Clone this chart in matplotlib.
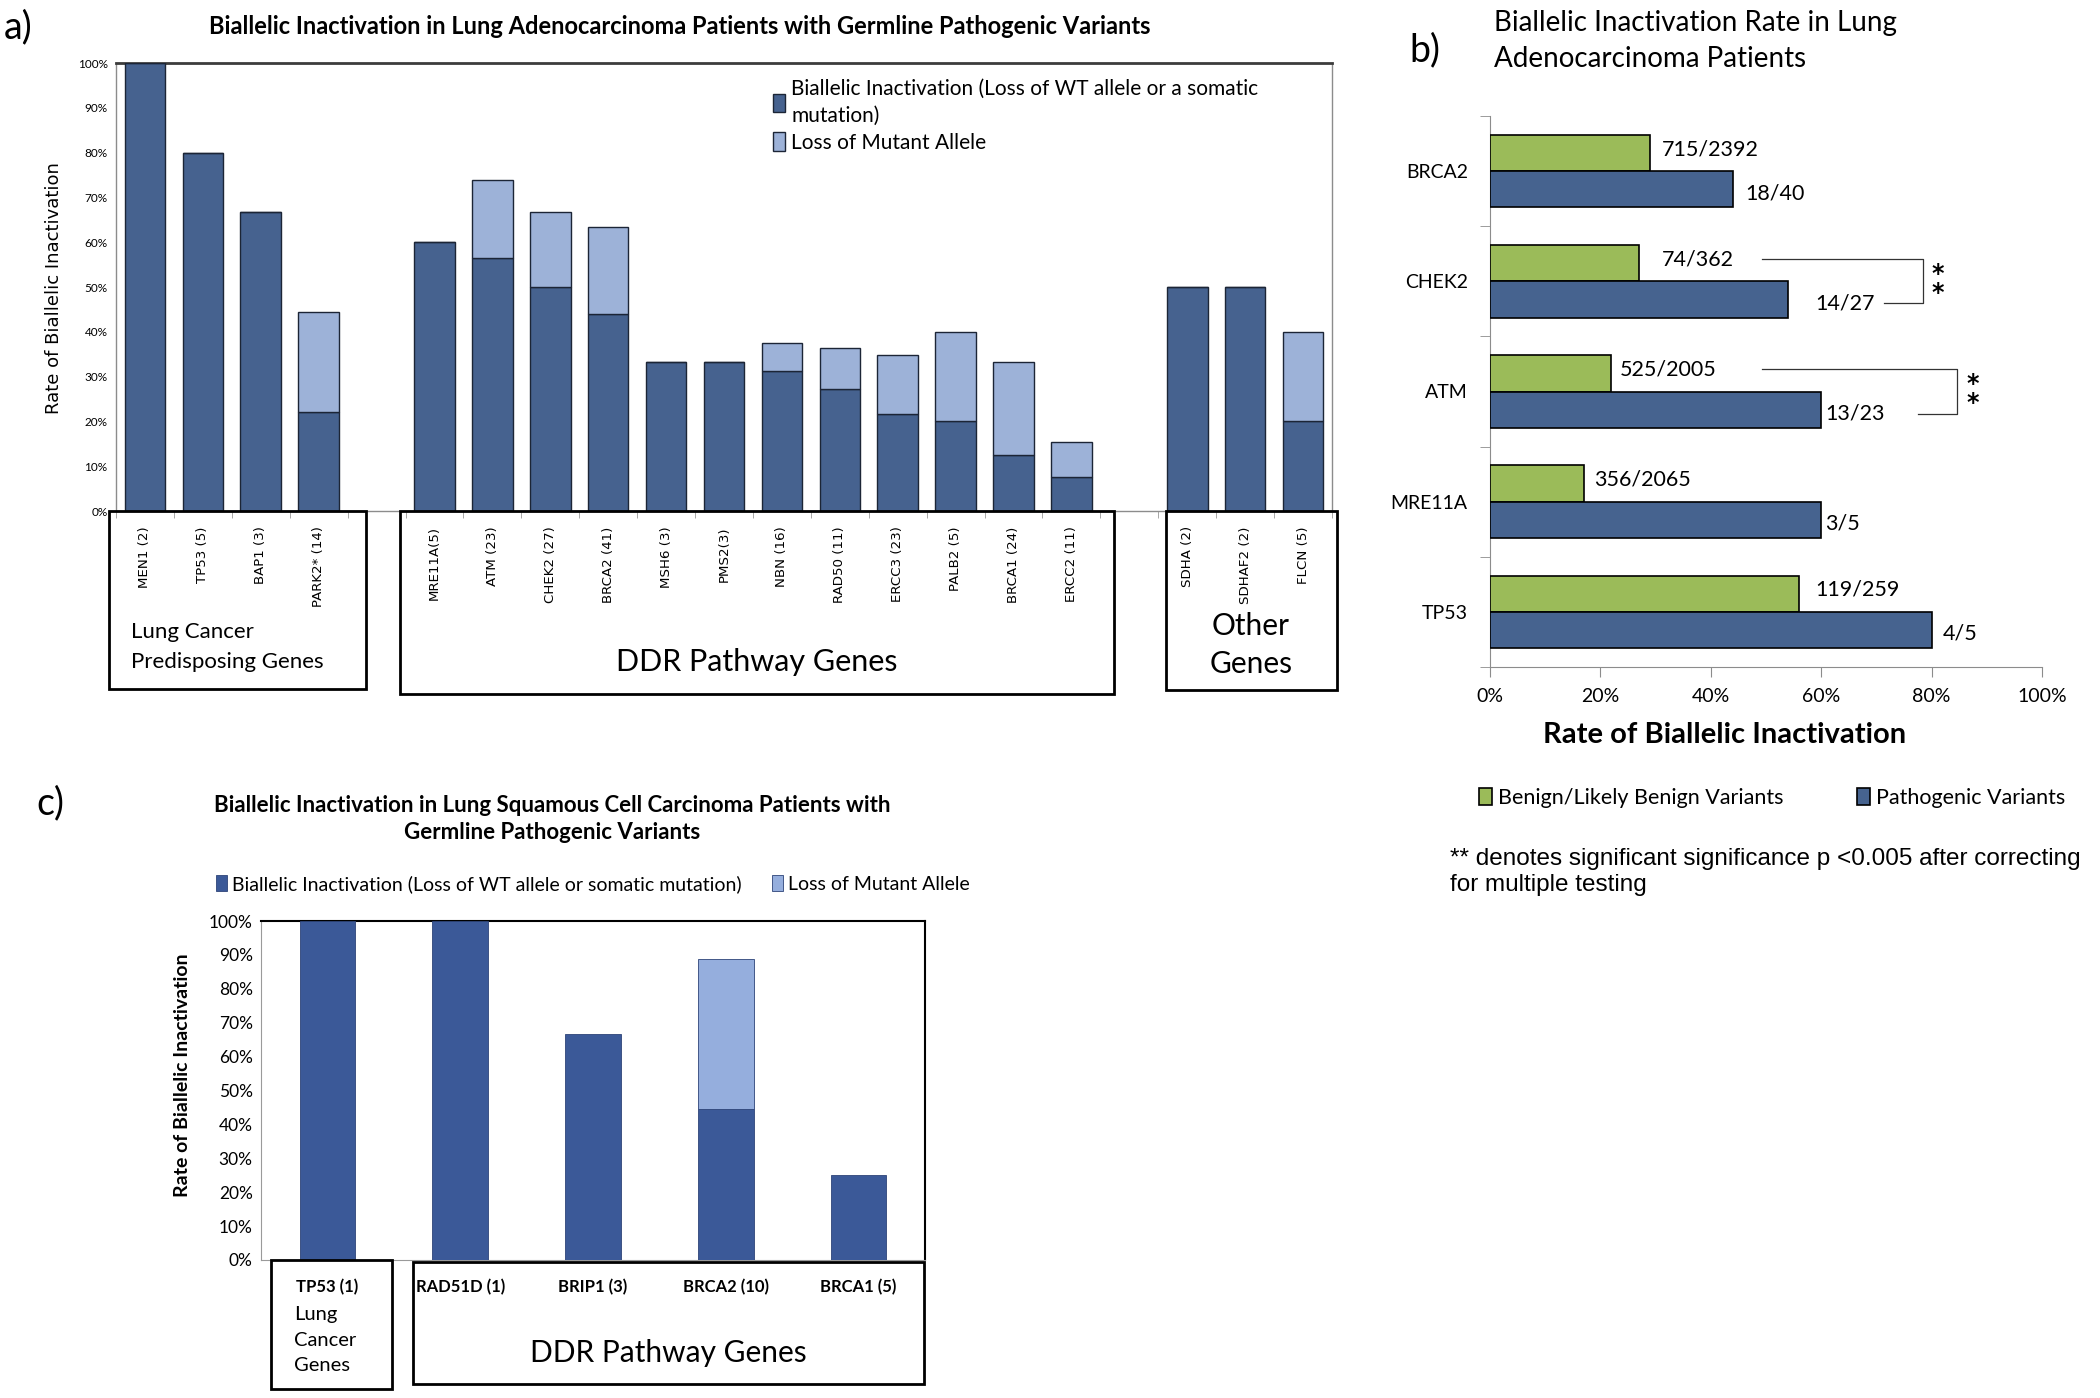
import numpy as np
import matplotlib
matplotlib.use('Agg')
import matplotlib.pyplot as plt
from matplotlib.patches import Rectangle

W, H = 2100, 1398

# ---- panel a: lung adenocarcinoma, germline pathogenic variants
a_genes = ['MEN1 (2)', 'TP53 (5)', 'BAP1 (3)', 'PARK2* (14)',
           'MRE11A(5)', 'ATM (23)', 'CHEK2 (27)', 'BRCA2 (41)', 'MSH6 (3)',
           'PMS2(3)', 'NBN (16)', 'RAD50 (11)', 'ERCC3 (23)', 'PALB2 (5)',
           'BRCA1 (24)', 'ERCC2 (11)',
           'SDHA (2)', 'SDHAF2 (2)', 'FLCN (5)']
a_group_sizes = [4, 12, 3]
a_biallelic = [100, 80, 66.7, 22.2,
               60, 56.5, 50, 43.9, 33.3, 33.3, 31.3, 27.3, 21.7, 20, 12.5, 7.7,
               50, 50, 20]
a_loss_mutant = [0, 0, 0, 22.2,
                 0, 17.4, 16.7, 19.5, 0, 0, 6.2, 9.1, 13.1, 20, 20.8, 7.7,
                 0, 0, 20]
a_groups = ['Lung Cancer\nPredisposing Genes', 'DDR Pathway Genes', 'Other\nGenes']

# ---- panel b: biallelic inactivation rate, benign vs pathogenic
b_genes = ['BRCA2', 'CHEK2', 'ATM', 'MRE11A', 'TP53']
b_benign = [29, 27, 22, 17, 56]
b_patho = [44, 54, 60, 60, 80]
b_benign_lbl = ['715/2392', '74/362', '525/2005', '356/2065', '119/259']
b_patho_lbl = ['18/40', '14/27', '13/23', '3/5', '4/5']
b_sig_genes = ['CHEK2', 'ATM']

# ---- panel c: lung squamous cell carcinoma
c_genes = ['TP53 (1)', 'RAD51D (1)', 'BRIP1 (3)', 'BRCA2 (10)', 'BRCA1 (5)']
c_biallelic = [100, 100, 66.7, 44.4, 25]
c_loss_mutant = [0, 0, 0, 44.4, 0]
c_groups = ['Lung\nCancer\nGenes', 'DDR Pathway Genes']

A_DARK, A_LIGHT = '#46628f', '#9db2d8'
B_GREEN, B_BLUE = '#9bbb59', '#46638f'
C_DARK, C_LIGHT = '#3b5998', '#95aedd'
SANS = ['Lato', 'DejaVu Sans']


def fx(px):
    return px / W


def fy(py):
    return 1 - py / H


def box(fig, x0, y0, x1, y1, lw=2.0):
    fig.add_artist(Rectangle((fx(x0), fy(y1)), fx(x1) - fx(x0), fy(y0) - fy(y1),
                             transform=fig.transFigure, fill=False,
                             edgecolor='black', linewidth=lw, zorder=5))


def label(fig, px, py, s, **kw):
    kw.setdefault('family', SANS)
    fig.text(fx(px), fy(py), s, **kw)


fig = plt.figure(figsize=(W / 100, H / 100), dpi=100)

# ================= panel a =================
axa = fig.add_axes([fx(116), fy(511), fx(1332) - fx(116), fy(63) - fy(511)])
a_x = []
pos = 0
for n in a_group_sizes:
    a_x.extend(range(pos, pos + n))
    pos += n + 1
a_x = np.array(a_x)

axa.bar(a_x, a_biallelic, width=0.7, color=A_DARK, edgecolor='#1c2536',
        linewidth=1.0, zorder=3,
        label='Biallelic Inactivation (Loss of WT allele or a somatic\nmutation)')
axa.bar(a_x, a_loss_mutant, width=0.7, bottom=a_biallelic, color=A_LIGHT,
        edgecolor='#1c2536', linewidth=1.0, zorder=3, label='Loss of Mutant Allele')

axa.set_xlim(-0.5, pos - 1 - 0.5)
axa.set_ylim(0, 100)
axa.set_yticks(np.arange(0, 101, 10))
axa.set_yticklabels([f'{v}%' for v in range(0, 101, 10)], fontsize=8.5, family=SANS)
axa.tick_params(axis='y', length=0, pad=6)
axa.set_xticks(a_x)
axa.set_xticklabels(a_genes, rotation=90, fontsize=9.6, family='DejaVu Sans')
axa.tick_params(axis='x', length=0, pad=11)
axa.set_xticks(np.arange(-0.5, pos - 1, 1), minor=True)
axa.tick_params(axis='x', which='minor', length=5, color='#999999', direction='out')
for side in ['left', 'right', 'bottom']:
    axa.spines[side].set_color('#8c8c8c')
    axa.spines[side].set_linewidth(1.0)
axa.spines['top'].set_color('#3c3c3c')
axa.spines['top'].set_linewidth(2.0)

leg_a = axa.legend(loc='upper left', bbox_to_anchor=(0.54, 0.965), frameon=False,
                   prop={'family': SANS, 'size': 15},
                   handlelength=0.6, handleheight=1.0, handletextpad=0.3,
                   borderaxespad=0, borderpad=0, labelspacing=0.3)
leg_a.get_texts()[0].set_linespacing(1.45)

label(fig, 4, 27, 'a)', fontsize=27, va='center', ha='left')
label(fig, 680, 26, 'Biallelic Inactivation in Lung Adenocarcinoma Patients with '
      'Germline Pathogenic Variants', fontsize=17, fontweight='bold',
      ha='center', va='center')
fig.text(fx(54), fy(288), 'Rate of Biallelic Inactivation', rotation=90,
         fontsize=13, family='DejaVu Sans', ha='center', va='center')

box(fig, 109, 511, 366, 689)
box(fig, 400, 511, 1114, 694)
box(fig, 1166, 511, 1337, 690)
label(fig, 131, 647, a_groups[0], fontsize=16, ha='left', va='center',
      linespacing=1.6)
label(fig, 757, 662, a_groups[1], fontsize=22, ha='center', va='center')
label(fig, 1251, 645, a_groups[2], fontsize=21.5, ha='center', va='center',
      linespacing=1.4)

# ================= panel b =================
axb = fig.add_axes([fx(1490), fy(667), fx(2042) - fx(1490), fy(116) - fy(667)])
b_y = np.arange(len(b_genes))
bars_g = axb.barh(b_y - 0.165, b_benign, height=0.33, color=B_GREEN,
                  edgecolor='black', linewidth=1.2, zorder=3,
                  label='Benign/Likely Benign Variants')
bars_b = axb.barh(b_y + 0.165, b_patho, height=0.33, color=B_BLUE,
                  edgecolor='black', linewidth=1.2, zorder=3,
                  label='Pathogenic Variants')
g_off = [2.2, 4.1, 1.5, 1.9, 2.9]
p_off = [2.3, 4.9, 0.7, 0.7, 2.1]
for i in range(len(b_genes)):
    axb.text(b_benign[i] + g_off[i], b_y[i] - 0.2, b_benign_lbl[i],
             fontsize=15.5, family=SANS, va='center', ha='left')
    axb.text(b_patho[i] + p_off[i], b_y[i] + 0.2, b_patho_lbl[i],
             fontsize=15.5, family=SANS, va='center', ha='left')

# significance brackets (** p < 0.005)
brackets = {'CHEK2': (49.3, 78.4, 71.4), 'ATM': (49.3, 84.6, 77.5)}
for g in b_sig_genes:
    i = b_genes.index(g)
    x0, xr, x1 = brackets[g]
    axb.plot([x0, xr, xr, x1], [i - 0.2, i - 0.2, i + 0.2, i + 0.2],
             color='#333333', linewidth=0.9, clip_on=False)
    axb.text(xr + 2.8, i + 0.02, '*\n*', fontsize=17, family='DejaVu Sans',
             fontweight='bold', ha='center', va='center', linespacing=0.75)

axb.set_xlim(0, 100)
axb.set_ylim(len(b_genes) - 0.5, -0.5)
axb.set_xticks(np.arange(0, 101, 20))
axb.set_xticklabels([f'{v}%' for v in range(0, 101, 20)], fontsize=14, family=SANS)
axb.tick_params(axis='x', length=7, color='#8c8c8c', pad=8)
axb.set_yticks(b_y)
axb.set_yticklabels(b_genes, fontsize=14, family=SANS)
axb.tick_params(axis='y', length=0, pad=16)
axb.set_yticks(np.arange(-0.5, len(b_genes)), minor=True)
axb.tick_params(axis='y', which='minor', length=7, color='#8c8c8c')
axb.spines['top'].set_visible(False)
axb.spines['right'].set_visible(False)
axb.spines['left'].set_color('#8c8c8c')
axb.spines['bottom'].set_color('#8c8c8c')

label(fig, 1409, 50, 'b)', fontsize=27, va='center', ha='left')
label(fig, 1494, 41, 'Biallelic Inactivation Rate in Lung\nAdenocarcinoma Patients',
      fontsize=20, ha='left', va='center', linespacing=1.45)
label(fig, 1725, 735, 'Rate of Biallelic Inactivation', fontsize=21,
      fontweight='bold', ha='center', va='center')
axb.legend(handles=[bars_g, bars_b], loc='center left', ncol=2,
           bbox_to_anchor=(fx(1479), fy(798)), bbox_transform=fig.transFigure,
           frameon=False, prop={'family': SANS, 'size': 15.5},
           handlelength=0.6, handleheight=0.85, handletextpad=0.3,
           columnspacing=3.4, borderpad=0, borderaxespad=0)
fig.text(fx(1450), fy(872), '** denotes significant significance p <0.005 after '
         'correcting\nfor multiple testing', fontsize=17.5,
         family=['Liberation Sans', 'DejaVu Sans'], ha='left', va='center',
         linespacing=1.2)

# ================= panel c =================
axc = fig.add_axes([fx(261), fy(1260), fx(925) - fx(261), fy(921) - fy(1260)])
c_x = np.arange(len(c_genes))
c_bar = axc.bar(c_x, c_biallelic, width=0.42, color=C_DARK, edgecolor='#2d4478',
                linewidth=0.6, zorder=3,
                label='Biallelic Inactivation (Loss of WT allele or somatic mutation)')
loss = np.array(c_loss_mutant, dtype=float)
keep = loss > 0
axc.bar(c_x[keep], loss[keep], width=0.42, bottom=np.array(c_biallelic)[keep],
        color=C_LIGHT, edgecolor='#2d4478', linewidth=0.6, zorder=3)
c_light_handle = Rectangle((0, 0), 1, 1, facecolor=C_LIGHT, edgecolor='#2d4478',
                           linewidth=0.6, label='Loss of Mutant Allele')
axc.set_xlim(-0.5, len(c_genes) - 0.5)
axc.set_ylim(0, 100)
axc.set_yticks(np.arange(0, 101, 10))
axc.set_yticklabels([f'{v}%' for v in range(0, 101, 10)], fontsize=12.5, family=SANS)
axc.tick_params(axis='y', length=0, pad=6)
axc.set_xticks(c_x)
axc.set_xticklabels(c_genes, fontsize=12, family=SANS, fontweight='bold')
axc.tick_params(axis='x', length=0, pad=14)
axc.spines['left'].set_color('#9a9a9a')
axc.spines['bottom'].set_color('#9a9a9a')
axc.spines['top'].set_color('black')
axc.spines['top'].set_linewidth(1.5)
axc.spines['right'].set_color('black')
axc.spines['right'].set_linewidth(1.5)

axc.legend(handles=[c_bar, c_light_handle], loc='center left', ncol=2,
           bbox_to_anchor=(fx(216), fy(884)), bbox_transform=fig.transFigure,
           frameon=False, prop={'family': SANS, 'size': 14},
           handlelength=0.55, handleheight=0.85, handletextpad=0.25,
           columnspacing=1.6, borderpad=0, borderaxespad=0)

label(fig, 36, 803, 'c)', fontsize=27, va='center', ha='left')
label(fig, 552, 819, 'Biallelic Inactivation in Lung Squamous Cell Carcinoma '
      'Patients with\nGermline Pathogenic Variants', fontsize=16,
      fontweight='bold', ha='center', va='center', linespacing=1.3)
label(fig, 183, 1075, 'Rate of Biallelic Inactivation', rotation=90,
      fontsize=14, fontweight='bold', ha='center', va='center')

box(fig, 271, 1260, 392, 1389)
box(fig, 413, 1262, 924, 1384)
label(fig, 294, 1340, c_groups[0], fontsize=14.5, ha='left', va='center',
      linespacing=1.6)
label(fig, 668, 1353, c_groups[1], fontsize=21.5, ha='center', va='center')

fig.savefig('out.png', dpi=100, facecolor='white')
